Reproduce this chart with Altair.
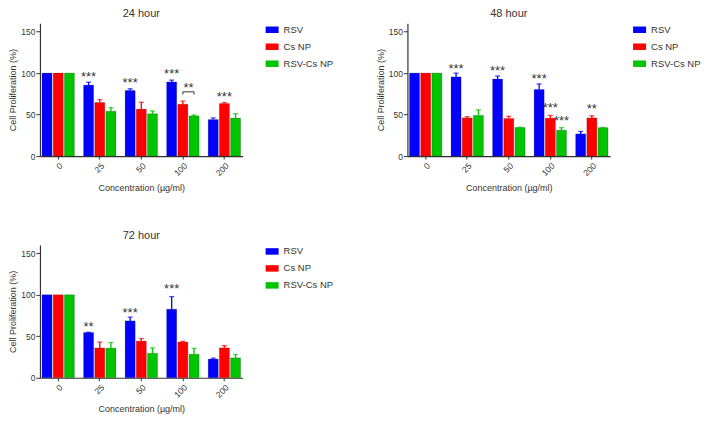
import altair as alt
import pandas as pd

conc = ["0", "25", "50", "100", "200"]
groups = ["RSV", "Cs NP", "RSV-Cs NP"]
colors = ["#0000ff", "#ff0000", "#00c400"]

# 24 hour
h24_rsv = [100, 85.5, 79, 89.3, 44]
h24_cs = [100, 64.5, 56.6, 62.5, 63.3]
h24_combo = [100, 54, 51, 48.4, 45.8]
e24_rsv = [0, 3.5, 2, 2.2, 1.9]
e24_cs = [0, 3.6, 8.2, 3.7, 1.1]
e24_combo = [0, 4.4, 3.3, 1.1, 5.2]

# 48 hour
h48_rsv = [100, 95.4, 92.8, 80.2, 26.7]
h48_cs = [100, 46, 45.3, 45.7, 46]
h48_combo = [100, 49, 34.5, 31.2, 34.2]
e48_rsv = [0, 4.5, 3.7, 6.7, 3]
e48_cs = [0, 1.5, 2.6, 3.3, 2.6]
e48_combo = [0, 6.7, 0.3, 3, 0.3]

# 72 hour
h72_rsv = [100, 54.5, 68.5, 82.6, 22.5]
h72_cs = [100, 36, 44.2, 43, 36]
h72_combo = [100, 35.7, 29.5, 28.4, 24]
e72_rsv = [0, 0.3, 4.5, 15.1, 1.1]
e72_cs = [0, 7, 3, 0.9, 2.7]
e72_combo = [0, 6.7, 6.5, 7, 4]

# significance annotations: (conc, group, label, y, dx)
ann24 = [("25", "RSV", "***", 98.6, 0), ("50", "RSV", "***", 92, 0),
         ("100", "RSV", "***", 102, 0), ("200", "Cs NP", "***", 75, 0),
         ("100", "RSV-Cs NP", "**", 85.6, -5.5)]
ann48 = [("25", "RSV", "***", 108, 0), ("50", "RSV", "***", 106, 0),
         ("100", "RSV", "***", 96, 0), ("100", "Cs NP", "***", 61, 0),
         ("100", "RSV-Cs NP", "***", 45.3, 0), ("200", "Cs NP", "**", 60, 0)]
ann72 = [("25", "RSV", "**", 64.5, 0), ("50", "RSV", "***", 82, 0),
         ("100", "RSV", "***", 110, 0)]
# bracket in 24 hour panel at 100
bracket24 = [("100", "Cs NP", 74.2, 0), ("100", "Cs NP", 77.4, 1),
             ("100", "RSV-Cs NP", 77.4, 2), ("100", "RSV-Cs NP", 74.2, 3)]

FONT = "Liberation Sans"
TXT = "#333333"


def make_panel(title, vals, errs, ann, bracket=None):
    rows = []
    for g, v, e in zip(groups, vals, errs):
        for c, vv, ee in zip(conc, v, e):
            rows.append({"conc": c, "group": g, "value": vv, "err": ee, "top": vv + ee})
    df = pd.DataFrame(rows)
    adf = pd.DataFrame(ann, columns=["conc", "group", "label", "y", "dx"])

    x = alt.X("conc:N", sort=conc,
              scale=alt.Scale(domain=conc, paddingInner=0.22, paddingOuter=0.05),
              axis=alt.Axis(title="Concentration (µg/ml)", labelAngle=-45,
                            tickSize=3, labelPadding=2, titlePadding=6,
                            titleFontWeight="normal"))
    xo = alt.XOffset("group:N", scale=alt.Scale(domain=groups, paddingInner=0.1))
    y = alt.Y("value:Q", scale=alt.Scale(domain=[0, 150]),
              axis=alt.Axis(title="Cell Proliferation (%)", values=[0, 50, 100, 150],
                            tickSize=4, labelPadding=1, titlePadding=3,
                            titleFontWeight="normal"))
    color = alt.Color("group:N",
                      scale=alt.Scale(domain=groups, range=colors),
                      legend=alt.Legend(title=None, orient="right", offset=23,
                                        symbolType="M-1,-0.5H1V0.5H-1Z",
                                        symbolSize=169, symbolStrokeWidth=0,
                                        labelFontSize=9.5, labelFont=FONT,
                                        labelColor=TXT, rowPadding=6,
                                        labelOffset=5, padding=0))

    base = alt.Chart(df)
    bars = base.mark_bar(stroke="black", strokeWidth=0.6, strokeOpacity=0.3).encode(
        x=x, xOffset=xo, y=y, color=color)
    ebase = base.transform_filter("datum.err > 0")
    rule = ebase.mark_rule(strokeWidth=1.3).encode(
        x=x, xOffset=xo, y="value:Q", y2="top:Q", color=color)
    cap = ebase.mark_tick(size=5, thickness=1.3).encode(
        x=x, xOffset=xo, y="top:Q", color=color)
    layers = [bars, rule, cap]
    for dxv in sorted(set(adf["dx"])):
        sub = adf[adf["dx"] == dxv]
        layers.append(alt.Chart(sub).mark_text(
            fontSize=13, font=FONT, color=TXT, baseline="middle", dy=3, dx=dxv).encode(
            x=x, xOffset=xo, y="y:Q", text="label:N"))
    if bracket is not None:
        bdf = pd.DataFrame(bracket, columns=["conc", "group", "y", "ord"])
        layers.append(alt.Chart(bdf).mark_line(color=TXT, strokeWidth=1).encode(
            x=x, xOffset=xo, y="y:Q", order="ord:Q"))
    return alt.layer(*layers).properties(
        width=203, height=133,
        title=alt.TitleParams(title, fontSize=11, fontWeight="normal", font=FONT,
                              color=TXT, anchor="middle", offset=4))


p24 = make_panel("24 hour", [h24_rsv, h24_cs, h24_combo],
                 [e24_rsv, e24_cs, e24_combo], ann24, bracket24)
p48 = make_panel("48 hour", [h48_rsv, h48_cs, h48_combo],
                 [e48_rsv, e48_cs, e48_combo], ann48)
p72 = make_panel("72 hour", [h72_rsv, h72_cs, h72_combo],
                 [e72_rsv, e72_cs, e72_combo], ann72)

top = alt.hconcat(p24, p48, spacing=42).resolve_scale(color="independent")
chart = alt.vconcat(top, p72, spacing=37).resolve_scale(
    color="independent").properties(padding=0, background="white").configure_view(
    stroke=None).configure_axis(
    grid=False, domainColor=TXT, tickColor=TXT, labelColor=TXT, titleColor=TXT,
    labelFont=FONT, titleFont=FONT, labelFontSize=8.5, titleFontSize=9,
    titleFontWeight="normal", domainWidth=1.2)

chart.save("out.html", embed_options={"renderer": "svg", "actions": False})
